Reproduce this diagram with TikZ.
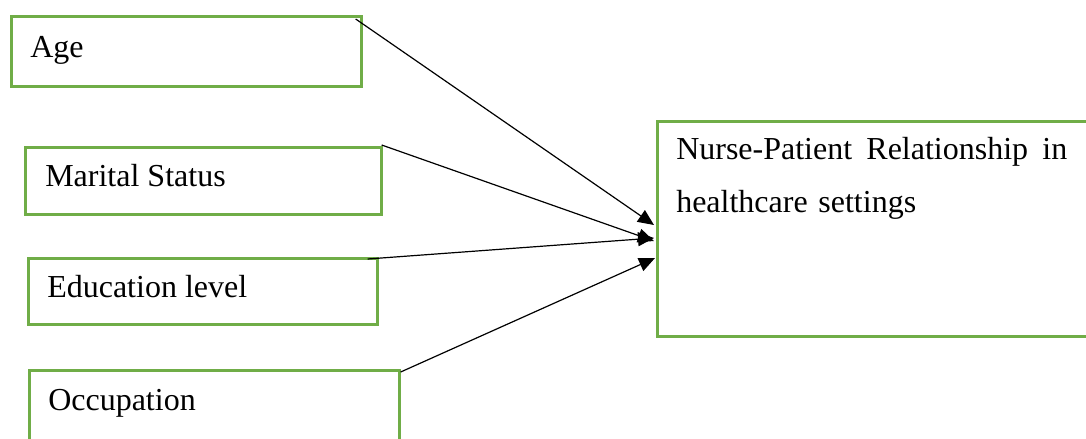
\documentclass[tikz,border=0pt]{standalone}
\usepackage{fontspec}
\setmainfont{Liberation Serif}
\usetikzlibrary{arrows.meta,calc}
\definecolor{boxgreen}{RGB}{112,173,71}
\tikzset{
  box/.style={draw=boxgreen, line width=2pt, rectangle, inner sep=0pt, anchor=north west},
  lbl/.style={anchor=base west, inner sep=0pt, font=\fontsize{24}{39.75}\selectfont},
  conn/.style={draw=black, line width=0.9pt, -{Triangle[length=12pt,width=10.5pt]}}
}
\begin{document}
\begin{tikzpicture}[x=0.75pt,y=-0.75pt]
\useasboundingbox (0,0) rectangle (1086,439);
% boxes
\node[box, minimum width=350*0.75pt, minimum height=70*0.75pt] (age) at (10,15) {};
\node[box, minimum width=356*0.75pt, minimum height=67*0.75pt] (mar) at (24,146) {};
\node[box, minimum width=349*0.75pt, minimum height=66*0.75pt] (edu) at (27,257) {};
\node[box, minimum width=370*0.75pt, minimum height=100*0.75pt] (occ) at (28,369) {};
\node[box, minimum width=450*0.75pt, minimum height=215*0.75pt] (nur) at (656,120) {};
% labels
\node[lbl] (tage) at (30,57) {Age};
\node[lbl] (tmar) at (45,186) {Marital Status};
\node[lbl] (tedu) at (47,297) {Education level};
\node[lbl] (tocc) at (48,410) {Occupation};
\node[lbl, anchor=north west, text width=391*0.75pt, align=left] (tnur) at (676,137)
  {Nurse-Patient\hfill Relationship\hfill in\\healthcare settings};
% connector end points
\coordinate (s1) at ($(age.north east)+(-7,4)$);
\coordinate (s2) at ($(mar.north east)+(-1,-1)$);
\coordinate (s3) at ($(edu.north east)+(-11,2)$);
\coordinate (s4) at ($(occ.north east)+(0,3)$);
\coordinate (e1) at ($(nur.north west)+(-2,105)$);
\coordinate (e2) at ($(nur.north west)+(-2,121)$);
\coordinate (e3) at ($(nur.north west)+(-2,118)$);
\coordinate (e4) at ($(nur.north west)+(-1,138)$);
\draw[conn] (s1) -- (e1);
\draw[conn] (s2) -- (e2);
\draw[conn] (s3) -- (e3);
\draw[conn] (s4) -- (e4);
\end{tikzpicture}
\end{document}
